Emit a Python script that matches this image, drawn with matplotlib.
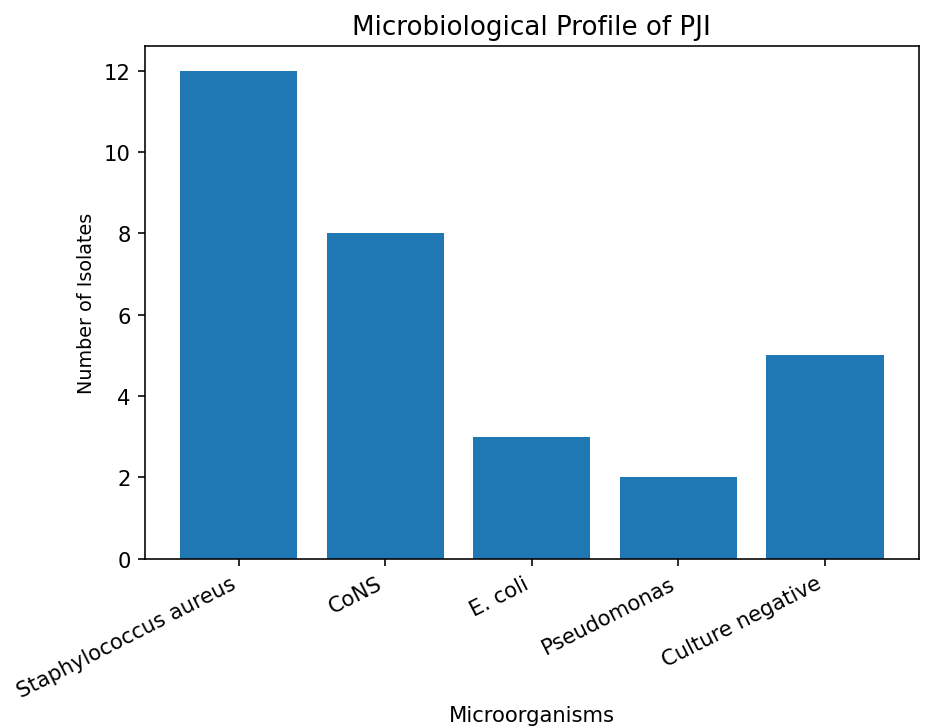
import matplotlib
matplotlib.use("Agg")
import matplotlib.pyplot as plt

# Data
organisms = ["Staphylococcus aureus", "CoNS", "E. coli", "Pseudomonas", "Culture negative"]
isolates = [12, 8, 3, 2, 5]

fig, ax = plt.subplots(figsize=(928 / 145, 727 / 145), dpi=145)
ax.bar(organisms, isolates, color="#1f77b4")

ax.set_title("Microbiological Profile of PJI", fontsize=13)
ax.set_xlabel("Microorganisms", fontsize=10.5, va="center")
ax.xaxis.set_label_coords(0.5, -0.304)
ax.set_ylabel("Number of Isolates", fontsize=9.5)
ax.tick_params(labelsize=10.5)
plt.setp(ax.get_xticklabels(), rotation=27, ha="right")

fig.subplots_adjust(left=0.156, right=0.99, top=0.935, bottom=0.23)
fig.savefig("out.png", dpi=145)
